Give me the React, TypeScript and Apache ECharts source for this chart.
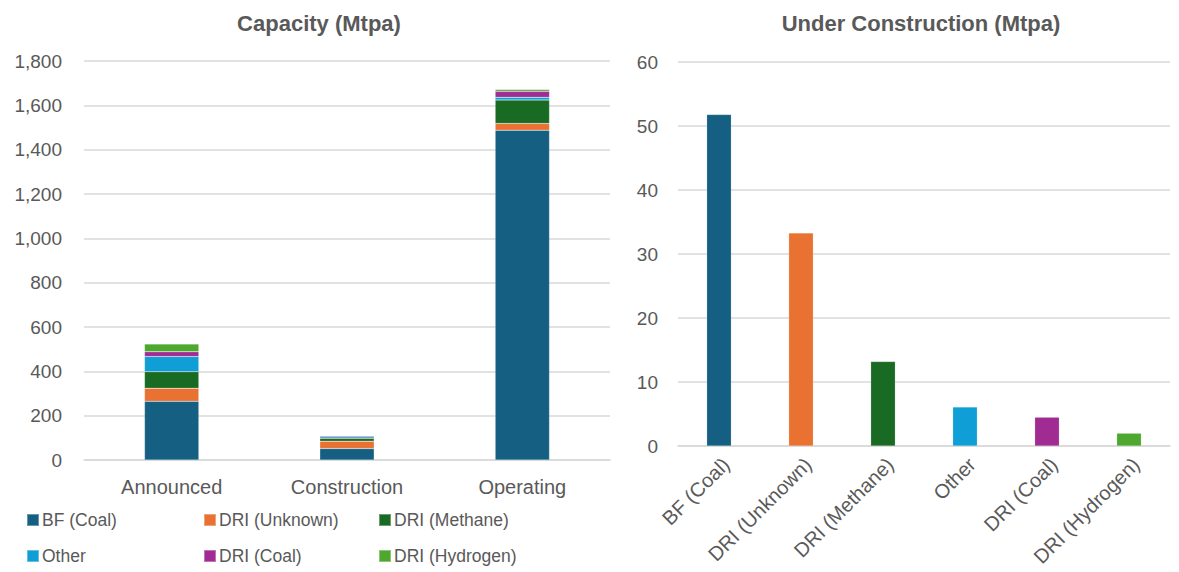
import React, { useEffect, useRef } from "react";
import * as echarts from "echarts";

// Capacity by status (Mtpa), stacked by technology
const statuses = ["Announced", "Construction", "Operating"];
const technologies = [
  "BF (Coal)",
  "DRI (Unknown)",
  "DRI (Methane)",
  "Other",
  "DRI (Coal)",
  "DRI (Hydrogen)",
];
const techColors = ["#156082", "#E97132", "#196B24", "#0F9ED5", "#A02B93", "#4EA72E"];

// Values per technology, one per status (Announced, Construction, Operating)
const bfCoal = [265, 51.8, 1488];
const driUnknown = [59, 33.3, 30];
const driMethane = [74, 13.2, 106];
const other = [69, 6.1, 12];
const driCoal = [21, 4.5, 27];
const driHydrogen = [35, 2.0, 8];
const stackValues = [bfCoal, driUnknown, driMethane, other, driCoal, driHydrogen];

// Under construction (Mtpa) by technology
const underConstruction = technologies.map((_, i) => stackValues[i][1]);

const leftTicks = { min: 0, max: 1800, interval: 200 };
const rightTicks = { min: 0, max: 60, interval: 10 };

const FONT = "'Liberation Sans', Arial, sans-serif";
const TEXT = "#595959";
const GRID = "#d9d9d9";

export default function App() {
  const ref = useRef<HTMLDivElement>(null);

  useEffect(() => {
    if (!ref.current) return;
    const chart = echarts.init(ref.current, null, { renderer: "svg" });

    const legendPos = [
      { left: 26, top: 511 },
      { left: 203, top: 511 },
      { left: 378, top: 511 },
      { left: 26, top: 547 },
      { left: 203, top: 547 },
      { left: 378, top: 547 },
    ];

    const option: any = {
      animation: false,
      textStyle: { fontFamily: FONT },
      title: [
        {
          text: "Capacity (Mtpa)",
          left: 314,
          top: 7,
          textAlign: "center",
          textStyle: { fontFamily: FONT, fontSize: 22, fontWeight: "bold", color: TEXT },
        },
        {
          text: "Under Construction (Mtpa)",
          left: 916,
          top: 7,
          textAlign: "center",
          textStyle: { fontFamily: FONT, fontSize: 22, fontWeight: "bold", color: TEXT },
        },
      ],
      legend: technologies.map((name, i) => ({
        data: [name],
        left: legendPos[i].left,
        top: legendPos[i].top,
        padding: 0,
        icon: "rect",
        itemWidth: 12,
        itemHeight: 12,
        selectedMode: false,
        textStyle: { fontFamily: FONT, fontSize: 17.5, color: TEXT, padding: [0, 0, 0, -2] },
      })),
      grid: [
        { left: 84, top: 61, width: 526, height: 399 },
        { left: 678, top: 62, width: 492, height: 384 },
      ],
      xAxis: [
        {
          type: "category",
          gridIndex: 0,
          data: statuses,
          axisLine: { lineStyle: { color: GRID, width: 1.5 } },
          axisTick: { show: false },
          axisLabel: { fontFamily: FONT, fontSize: 20, color: TEXT, margin: 17 },
        },
        {
          type: "category",
          gridIndex: 1,
          data: technologies,
          axisLine: { lineStyle: { color: GRID, width: 1.5 } },
          axisTick: { show: false },
          axisLabel: {
            fontFamily: FONT,
            fontSize: 20,
            color: TEXT,
            rotate: 45,
            margin: 8,
            interval: 0,
            verticalAlign: "top",
          },
        },
      ],
      yAxis: [
        {
          type: "value",
          gridIndex: 0,
          ...leftTicks,
          axisLine: { show: false },
          axisTick: { show: false },
          splitLine: { lineStyle: { color: GRID, width: 1.5 } },
          axisLabel: {
            fontFamily: FONT,
            fontSize: 19,
            color: TEXT,
            margin: 22,
            formatter: (v: number) => v.toLocaleString("en-US"),
          },
        },
        {
          type: "value",
          gridIndex: 1,
          ...rightTicks,
          axisLine: { show: false },
          axisTick: { show: false },
          splitLine: { lineStyle: { color: GRID, width: 1.5 } },
          axisLabel: { fontFamily: FONT, fontSize: 19, color: TEXT, margin: 20 },
        },
      ],
      series: [
        ...technologies.map((name, i) => ({
          name,
          type: "bar",
          stack: "capacity",
          xAxisIndex: 0,
          yAxisIndex: 0,
          barWidth: "31%",
          data: stackValues[i],
          itemStyle: { color: techColors[i], borderColor: "rgba(255,255,255,0.35)", borderWidth: 0.5 },
        })),
        {
          name: "Under Construction",
          type: "bar",
          xAxisIndex: 1,
          yAxisIndex: 1,
          barWidth: "30%",
          data: underConstruction.map((v, i) => ({
            value: v,
            itemStyle: { color: techColors[i] },
          })),
          itemStyle: { borderColor: "rgba(255,255,255,0.35)", borderWidth: 0.5 },
        },
      ],
    };

    chart.setOption(option);
    return () => chart.dispose();
  }, []);

  return (
    <div
      ref={ref}
      style={{ position: "absolute", left: 0, top: 0, width: 1179, height: 572, background: "#fff" }}
    />
  );
}
